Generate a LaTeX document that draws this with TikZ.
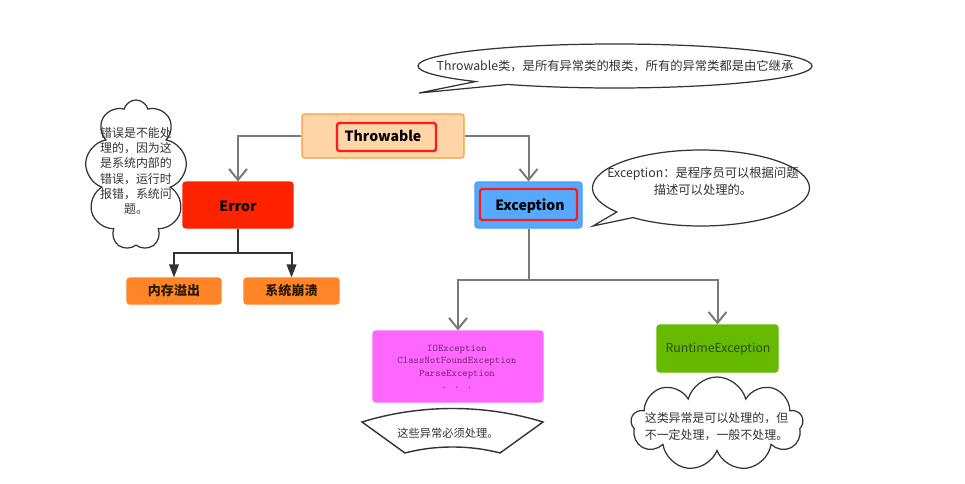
\documentclass[tikz,border=0pt]{standalone}
\usepackage{fontspec}
\setmainfont{Noto Sans CJK SC}
\usepackage{tikz}
\usetikzlibrary{shapes}
\usetikzlibrary{shapes.callouts}
\usetikzlibrary{shapes.symbols}
\usetikzlibrary{arrows.meta}
\usetikzlibrary{calc}
\definecolor{thr}{HTML}{FFD5A8}
\definecolor{thrline}{HTML}{F5A033}
\definecolor{err}{HTML}{FF2200}
\definecolor{exc}{HTML}{55AAFF}
\definecolor{excline}{HTML}{4A9CF2}
\definecolor{sys}{HTML}{FF8526}
\definecolor{systext}{HTML}{2A1A00}
\definecolor{chk}{HTML}{FF66FF}
\definecolor{chktext}{HTML}{7A2A7A}
\definecolor{rt}{HTML}{66BB00}
\definecolor{rttext}{HTML}{2E4A1A}
\definecolor{mark}{HTML}{FF1A1A}
\definecolor{conn}{HTML}{7A7A7A}
\definecolor{ink}{HTML}{333333}
\newcommand{\px}{0.2mm}

\begin{document}
\begin{tikzpicture}[
  x=0.2mm, y=-0.2mm,
  gen/.style ={
    -{Straight Barb[length=2.2mm,width=3.6mm]}, draw=conn, line width=0.4mm
  },
  sub/.style ={
    -{Triangle[length=2.6mm,width=1.9mm]}, draw=ink, line width=0.4mm
  },
  cls/.style 2 args={
    rectangle,
    rounded corners=1.5pt,
    draw=#1,
    fill=#2,
    line width=0.6pt,
    inner sep=0pt},
  marker/.style={
    rectangle,
    rounded corners=1pt,
    draw=mark,
    line width=0.45mm,
    inner sep=0pt},
  note/.style={
    ellipse callout,
    draw=ink,
    fill=white,
    line width=0.7pt,
    callout pointer arc=12,
    inner sep=0pt},
  puff/.style={
    cloud,
    cloud puffs=#1,
    cloud ignores aspect,
    draw=ink,
    fill=white,
    line width=0.7pt,
    inner sep=0pt},
  says/.style={
    align=center,
    inner sep=0pt,
    text=ink,
    font=\fontsize{7}{9.6}\selectfont},
  label/.style={
    inner sep=0pt,
    font=\bfseries\fontsize{8}{9}\selectfont},
]

  \path[use as bounding box, fill=white] (0,0) rectangle (965,484);

  % classes
        \node[cls={thrline}{thr}, minimum width=162*\px, minimum height=44*\px] (throwable)
            at (383, 136) {};
        \node[marker, minimum width=99*\px, minimum height=28*\px] (throwable_mark)
            at (386.5, 137) {};
        \node[label] (throwable_txt)
            at (383, 136) {Throwable};

        \node[cls={err}{err}, minimum width=110*\px, minimum height=46*\px] (error)
            at (238, 205) {};
        \node[label] (error_txt)
            at (238, 206) {Error};

        \node[cls={excline}{exc}, minimum width=107*\px, minimum height=46*\px] (exception)
            at (528.5, 205) {};
        \node[marker, minimum width=97*\px, minimum height=31*\px] (exception_mark)
            at (528.5, 204.5) {};
        \node[label] (exception_txt)
            at (530, 206) {Exception};

        \node[cls={sys}{sys}, minimum width=94*\px, minimum height=26*\px] (oom)
            at (174, 291) {};
        \node[label, text=systext, font=\bfseries\fontsize{7.4}{9}\selectfont] (oom_txt)
            at (174, 291) {内存溢出};

        \node[cls={sys}{sys}, minimum width=95*\px, minimum height=26*\px] (crash)
            at (291.5, 291) {};
        \node[label, text=systext, font=\bfseries\fontsize{7.4}{9}\selectfont] (crash_txt)
            at (291.5, 291) {系统崩溃};

        \node[cls={chk}{chk}, minimum width=170*\px, minimum height=71*\px] (checked)
            at (458, 366.5) {};
        \node[align=center, inner sep=0pt, text=chktext,
              font=\ttfamily\fontsize{5.8}{7.1}\selectfont] (checked_txt)
            at (457, 367) {IOException\\ClassNotFoundException\\ParseException\\. . .};

        \node[cls={rt}{rt}, minimum width=121*\px, minimum height=47*\px] (runtime)
            at (717.5, 348.5) {};
        \node[inner sep=0pt, text=rttext, font=\fontsize{7}{9}\selectfont] (runtime_txt)
            at (718, 349) {RuntimeException};

  % connectors
        \coordinate (errsplit) at (238, 253);
        \coordinate (excsplit) at (528.5, 280);

        \draw[gen] (throwable.west) -| (error.north);
        \draw[gen] (throwable.east) -| (exception.north);

        \draw[draw=ink, line width=0.4mm] (error.south) -- (errsplit);
        \draw[sub] (errsplit) -| (oom.north);
        \draw[sub] (errsplit) -| (crash.north);

        \draw[draw=conn, line width=0.4mm] (exception.south) -- (excsplit);
        \draw[gen] (excsplit) -| (checked.north);
        \draw[gen] (excsplit) -| (runtime.north);

  % notes
        \node[note, minimum width=394*\px, minimum height=44*\px,
              callout absolute pointer={(419,93)}] (thrownote)
            at (615, 66) {};
        \node[says] (thrownote_txt)
            at (615, 66) {Throwable类，是所有异常类的根类，所有的异常类都是由它继承};

        \node[note, minimum width=217*\px, minimum height=76*\px,
              callout absolute pointer={(593,226)}] (excnote)
            at (701, 188) {};
        \node[says] (excnote_txt)
            at (703, 181) {Exception：是程序员可以根据问题\\描述可以处理的。};

        \node[puff=9, minimum width=102*\px, minimum height=150*\px] (errcloud)
            at (136, 175) {};
        \node[says, font=\fontsize{6.8}{8.7}\selectfont] (errcloud_txt)
            at (136, 171) {错误是不能处\\理的，因为这\\是系统内部的\\错误，运行时\\报错，系统问\\题。};

        \node[puff=9, minimum width=172*\px, minimum height=94*\px] (rtcloud)
            at (717, 424) {};
        \node[says, font=\fontsize{6.8}{9.6}\selectfont] (rtcloud_txt)
            at (716.5, 426.5) {这类异常是可以处理的，但\\不一定处理，一般不处理。};

        \draw[draw=ink, line width=0.8pt, fill=white]
            (362,422) .. controls (420,404) and (485,404) .. (543,422)
            -- (500,453) .. controls (470,445) and (435,445) .. (405,453) -- cycle;
        \node[says, font=\fontsize{6.4}{8}\selectfont] (must_txt)
            at (448, 433) {这些异常必须处理。};

\end{tikzpicture}
\end{document}
